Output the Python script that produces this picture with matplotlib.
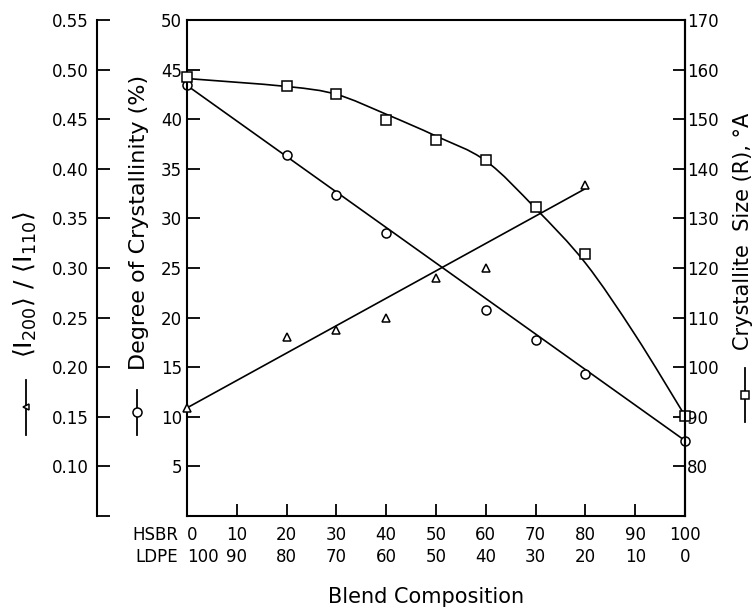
import matplotlib
matplotlib.use("Agg")
import matplotlib.pyplot as plt
from matplotlib.lines import Line2D
from matplotlib.path import Path
from matplotlib.patches import PathPatch
import numpy as np

# blend composition (x axis)
hsbr = [0, 10, 20, 30, 40, 50, 60, 70, 80, 90, 100]
ldpe = [100, 90, 80, 70, 60, 50, 40, 30, 20, 10, 0]

# degree of crystallinity (%), circles
cryst_x = [0, 20, 30, 40, 60, 70, 80, 100]
cryst_pct = [43.4, 36.4, 32.4, 28.5, 20.8, 17.7, 14.3, 7.6]
cryst_line_x = [0, 100]
cryst_line_pct = [43.4, 7.6]

# crystallite size (A), squares
size_x = [0, 20, 30, 40, 50, 60, 70, 80, 100]
size_A = [158.6, 156.6, 155.0, 149.8, 145.8, 141.8, 132.2, 122.8, 90.2]
size_curve_x = [0, 20, 30, 40, 50, 60, 70, 80, 90, 100]
size_curve_A = [158.2, 156.6, 155.0, 151.0, 146.6, 141.6, 132.0, 121.0, 106.5, 90.2]

# <I200>/<I110>, triangles
ratio_x = [0, 20, 30, 40, 50, 60, 80]
ratio = [0.159, 0.230, 0.238, 0.250, 0.290, 0.300, 0.384]
ratio_line_x = [0, 80]
ratio_line = [0.159, 0.380]


def smooth_path(xs, ys):
    # catmull-rom style bezier through the read curve points
    pts = np.column_stack([xs, ys]).astype(float)
    verts = [pts[0]]
    codes = [Path.MOVETO]
    for i in range(len(pts) - 1):
        p0 = pts[i - 1] if i > 0 else pts[i]
        p1, p2 = pts[i], pts[i + 1]
        p3 = pts[i + 2] if i + 2 < len(pts) else pts[i + 1]
        verts += [p1 + (p2 - p0) / 6, p2 - (p3 - p1) / 6, p2]
        codes += [Path.CURVE4] * 3
    return Path(verts, codes)


W, H = 753, 610
fig = plt.figure(figsize=(W / 100, H / 100), dpi=100)
ax = fig.add_axes([187 / W, 1 - 516 / H, (685 - 187) / W, (516 - 20) / H])

lw_sp = 1.5
mk = dict(mfc="white", mec="black", mew=1.1, clip_on=False, ls="none")

# main axis: crystallinity
ax.plot(cryst_line_x, cryst_line_pct, color="black", lw=1.2, clip_on=False)
ax.plot(cryst_x, cryst_pct, marker="o", ms=6.5, **mk)
ax.set_xlim(0, 100)
ax.set_ylim(0, 50)
ax.set_yticks(np.arange(0, 51, 5))
ax.set_yticklabels([""] + [str(v) for v in range(5, 51, 5)])
ax.set_xticks(hsbr)
ax.set_xticklabels([f"{h}\n{l}" for h, l in zip(hsbr, ldpe)])
for t in ax.get_xticklabels():
    t.set_linespacing(1.3)
ax.get_xticklabels()[0].set_ha("left")
ax.tick_params(axis="y", direction="in", length=9, width=1.3, labelsize=12, pad=3.5)
ax.tick_params(axis="x", direction="in", length=9, width=1.3, labelsize=12, pad=7)
for s in ax.spines.values():
    s.set_linewidth(lw_sp)

# right axis: crystallite size
ax_r = ax.twinx()
ax_r.add_patch(PathPatch(smooth_path(size_curve_x, size_curve_A), fill=False,
                         ec="black", lw=1.2, clip_on=False))
ax_r.plot(size_x, size_A, marker="s", ms=6.5, **mk)
ax_r.set_ylim(70, 170)
ax_r.set_yticks(np.arange(70, 171, 10))
ax_r.set_yticklabels([""] + [str(v) for v in range(80, 171, 10)])
ax_r.tick_params(axis="y", direction="in", length=9, width=1.3, labelsize=12, pad=1.5)
for k in ["top", "bottom", "left"]:
    ax_r.spines[k].set_visible(False)
ax_r.spines["right"].set_linewidth(lw_sp)

# outer left axis: intensity ratio
ax_t = ax.twinx()
ax_t.plot(ratio_line_x, ratio_line, color="black", lw=1.2, clip_on=False)
ax_t.plot(ratio_x, ratio, marker="^", ms=5.5, **mk)
ax_t.set_ylim(0.05, 0.55)
ax_t.yaxis.set_ticks_position("left")
ax_t.spines["left"].set_position(("axes", -90 / 498))
for k in ["top", "bottom", "right"]:
    ax_t.spines[k].set_visible(False)
ax_t.spines["left"].set_visible(True)
ax_t.spines["left"].set_linewidth(lw_sp)
ax_t.set_yticks(np.arange(0.05, 0.551, 0.05))
ax_t.set_yticklabels([""] + [f"{v:.2f}" for v in np.arange(0.10, 0.551, 0.05)])
ax_t.tick_params(axis="y", direction="in", length=9, width=1.3, labelsize=12, pad=6)

# row names under the x axis
fig.text(178 / W, 1 - 526 / H, "HSBR\nLDPE", ha="right", va="top", fontsize=12,
         linespacing=1.3, multialignment="right")
fig.text(426 / W, 1 - 597 / H, "Blend Composition", ha="center", va="center", fontsize=15)

# axis titles
fig.text(139 / W, 1 - 222 / H, "Degree of Crystallinity (%)", rotation=90,
         ha="center", va="center", fontsize=16)
fig.text(25 / W, 1 - 285 / H,
         r"$\langle \mathrm{I}_{200}\rangle\ /\ \langle \mathrm{I}_{110}\rangle$",
         rotation=90, ha="center", va="center", fontsize=18)
fig.text(743 / W, 1 - 231 / H, "Crystallite  Size (R), °A", rotation=90,
         ha="center", va="center", fontsize=15)

# series symbols beside the titles
def key(x, y0, y1, ym, marker, ms):
    fig.add_artist(Line2D([x / W, x / W], [1 - y0 / H, 1 - y1 / H], color="black",
                          lw=1.3, transform=fig.transFigure))
    fig.add_artist(Line2D([x / W], [1 - ym / H], marker=marker, ms=ms, mfc="white",
                          mec="black", mew=1.1, ls="none", transform=fig.transFigure))

key(26, 380, 435, 407, "<", 5)
key(137, 390, 435, 412, "o", 6.5)
key(745, 368, 422, 395, "s", 6)

fig.savefig("out.png", dpi=100)
